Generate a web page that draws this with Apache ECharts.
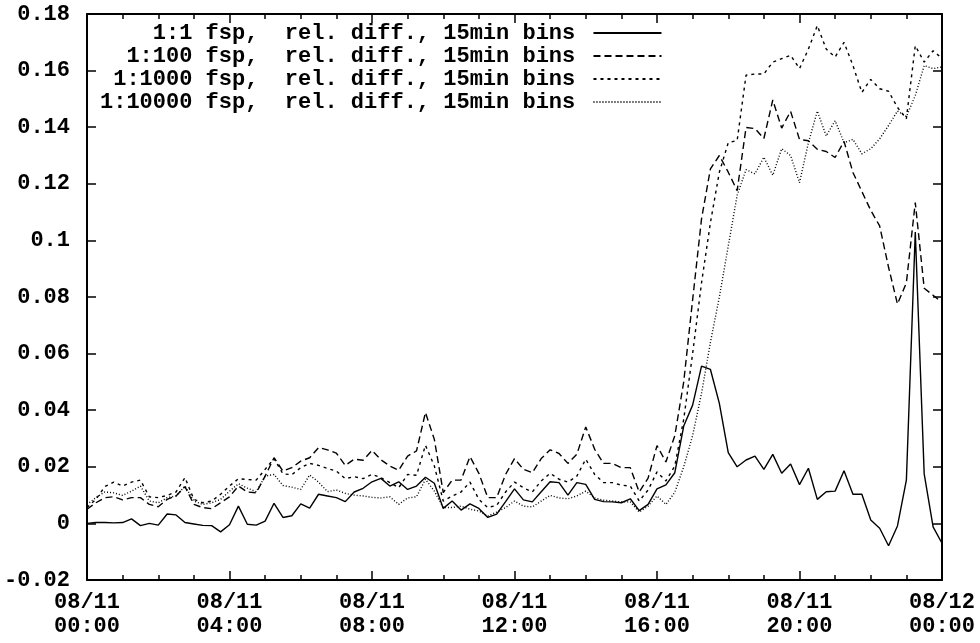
<!DOCTYPE html>
<html lang="en">
<head>
  <meta charset="UTF-8">
  <title>rel. diff. 15min bins</title>
  <script src="https://cdn.jsdelivr.net/npm/echarts@6/dist/echarts.min.js"></script>
</head>
<body style="margin:0;background:#fff">
<div id="chart" style="width:980px;height:643px"></div>

<script>
  // 15 minute bins, 08/11 00:00 .. 08/12 00:00 (97 points), x in hours
  const binHours = 0.25;
  const seriesNames = [
    '1:1 fsp,  rel. diff., 15min bins',
    '1:100 fsp,  rel. diff., 15min bins',
    '1:1000 fsp,  rel. diff., 15min bins',
    '1:10000 fsp,  rel. diff., 15min bins'
  ];
  const xTickLabels = ['08/11\n00:00', '08/11\n04:00', '08/11\n08:00', '08/11\n12:00',
    '08/11\n16:00', '08/11\n20:00', '08/12\n00:00'];

  const fsp1 = [
    0.000, 0.0003, 0.0003, 0.0002, 0.0003, 0.0016, -0.0008, 0.0000, -0.0006, 0.0033,
    0.0030, 0.0003, -0.0002, -0.0007, -0.0008, -0.0030, -0.0005, 0.0061, -0.0003, -0.0006,
    0.0008, 0.0071, 0.0021, 0.0027, 0.0069, 0.0054, 0.0103, 0.0097, 0.0091, 0.0077,
    0.0111, 0.0124, 0.0147, 0.0159, 0.0132, 0.0147, 0.0120, 0.0132, 0.0163, 0.0142,
    0.0053, 0.0079, 0.0047, 0.0069, 0.0053, 0.0021, 0.0033, 0.0077, 0.0122, 0.0083,
    0.0076, 0.0112, 0.0147, 0.0144, 0.0100, 0.0144, 0.0138, 0.0085, 0.0077, 0.0076,
    0.0073, 0.0087, 0.0045, 0.0067, 0.0122, 0.0136, 0.0179, 0.0344, 0.0418, 0.0556,
    0.0544, 0.0424, 0.0250, 0.0200, 0.0224, 0.0238, 0.0191, 0.0244, 0.0177, 0.0210,
    0.0137, 0.0195, 0.0085, 0.0112, 0.0114, 0.0186, 0.0103, 0.0103, 0.0012, -0.0017,
    -0.0079, -0.0009, 0.0153, 0.1030, 0.0175, -0.0012, -0.0070
  ];
  const fsp100 = [
    0.0050, 0.0073, 0.0091, 0.0094, 0.0083, 0.0091, 0.0091, 0.0067, 0.0059, 0.0085,
    0.0097, 0.0130, 0.0067, 0.0056, 0.0052, 0.0073, 0.0094, 0.0132, 0.0111, 0.0108,
    0.0167, 0.0232, 0.0185, 0.0197, 0.0220, 0.0232, 0.0268, 0.0260, 0.0248, 0.0205,
    0.0227, 0.0223, 0.0258, 0.0225, 0.0203, 0.0188, 0.0238, 0.0256, 0.0392, 0.0297,
    0.0109, 0.0153, 0.0153, 0.0236, 0.0177, 0.0091, 0.0091, 0.0173, 0.0229, 0.0191,
    0.0179, 0.0229, 0.0260, 0.0247, 0.0212, 0.0244, 0.0341, 0.0262, 0.0212, 0.0212,
    0.0197, 0.0197, 0.0111, 0.0160, 0.0275, 0.0217, 0.0310, 0.0500, 0.0790, 0.1076,
    0.1253, 0.1300, 0.1241, 0.1176, 0.1399, 0.1395, 0.1360, 0.1496, 0.1397, 0.1456,
    0.1357, 0.1352, 0.1322, 0.1314, 0.1293, 0.1350, 0.1240, 0.1173, 0.1106, 0.1051,
    0.0905, 0.0775, 0.0850, 0.1134, 0.0831, 0.0806, 0.0781
  ];
  const fsp1000 = [
    0.0056, 0.0085, 0.0130, 0.0146, 0.0132, 0.0146, 0.0153, 0.0094, 0.0091, 0.0099,
    0.0111, 0.0162, 0.0085, 0.0073, 0.0079, 0.0103, 0.0132, 0.0158, 0.0155, 0.0153,
    0.0191, 0.0229, 0.0175, 0.0172, 0.0197, 0.0212, 0.0205, 0.0194, 0.0185, 0.0158,
    0.0165, 0.0158, 0.0173, 0.0162, 0.0144, 0.0126, 0.0173, 0.0170, 0.0276, 0.0203,
    0.0079, 0.0097, 0.0111, 0.0146, 0.0085, 0.0056, 0.0064, 0.0111, 0.0146, 0.0126,
    0.0111, 0.0150, 0.0177, 0.0156, 0.0146, 0.0167, 0.0227, 0.0173, 0.0144, 0.0144,
    0.0135, 0.0132, 0.0079, 0.0118, 0.0182, 0.0150, 0.0203, 0.0368, 0.0600, 0.0850,
    0.1063, 0.1241, 0.1345, 0.1353, 0.1584, 0.1588, 0.1588, 0.1630, 0.1642, 0.1654,
    0.1607, 0.1676, 0.1759, 0.1676, 0.1648, 0.1700, 0.1618, 0.1523, 0.1569, 0.1536,
    0.1527, 0.1470, 0.1430, 0.1688, 0.1630, 0.1670, 0.1643
  ];
  const fsp10000 = [
    0.0067, 0.0091, 0.0111, 0.0108, 0.0099, 0.0114, 0.0132, 0.0079, 0.0073, 0.0091,
    0.0097, 0.0132, 0.0079, 0.0067, 0.0073, 0.0085, 0.0114, 0.0140, 0.0125, 0.0112,
    0.0167, 0.0173, 0.0134, 0.0128, 0.0120, 0.0171, 0.0146, 0.0112, 0.0118, 0.0106,
    0.0100, 0.0097, 0.0092, 0.0090, 0.0094, 0.0067, 0.0090, 0.0094, 0.0156, 0.0114,
    0.0056, 0.0056, 0.0061, 0.0050, 0.0044, 0.0026, 0.0040, 0.0056, 0.0079, 0.0061,
    0.0058, 0.0079, 0.0099, 0.0090, 0.0087, 0.0097, 0.0114, 0.0090, 0.0082, 0.0079,
    0.0076, 0.0076, 0.0040, 0.0061, 0.0097, 0.0067, 0.0110, 0.0200, 0.0310, 0.0460,
    0.0640, 0.0800, 0.0980, 0.1160, 0.1250, 0.1235, 0.1294, 0.1230, 0.1324, 0.1300,
    0.1204, 0.1345, 0.1457, 0.1369, 0.1423, 0.1345, 0.1357, 0.1306, 0.1324, 0.1359,
    0.1406, 0.1457, 0.1438, 0.1512, 0.1618, 0.1607, 0.1613
  ];

  const allValues = [fsp1, fsp100, fsp1000, fsp10000];
  const dashTypes = ['solid', [7, 4], [3, 4], [1, 2]];
  const FONT = '"Liberation Mono", "DejaVu Sans Mono", monospace';

  const chart = echarts.init(document.getElementById('chart'), null, { renderer: 'canvas' });

  const frameLine = { show: true, onZero: false, lineStyle: { color: '#000', width: 2 } };

  function xAxisDef(pos, labels) {
    return {
      type: 'value', position: pos, min: 0, max: 24, interval: 4,
      axisLine: frameLine,
      axisTick: { show: true, inside: true, length: 9, lineStyle: { color: '#000', width: 1.5 } },
      minorTick: { show: true, splitNumber: 4, length: 5, lineStyle: { color: '#000', width: 1.5 } },
      splitLine: { show: false },
      axisLabel: {
        show: labels, color: '#000', fontFamily: FONT, fontWeight: 'bold', fontSize: 22, lineHeight: 24, margin: 10,
        formatter: v => xTickLabels[Math.round(v / 4)]
      }
    };
  }
  function yAxisDef(pos, labels) {
    return {
      type: 'value', position: pos, min: -0.02, max: 0.18, interval: 0.02,
      axisLine: frameLine,
      axisTick: { show: true, inside: true, length: 9, lineStyle: { color: '#000', width: 1.5 } },
      splitLine: { show: false },
      axisLabel: {
        show: labels, color: '#000', fontFamily: FONT, fontWeight: 'bold', fontSize: 22, margin: 17,
        formatter: v => String(+v.toFixed(2))
      }
    };
  }

  const option = {
    animation: false,
    backgroundColor: '#fff',
    grid: { left: 87, right: 38, top: 14, bottom: 63 },
    legend: {
      orient: 'vertical', left: 95, top: 17, align: 'right',
      itemWidth: 68, itemHeight: 14, itemGap: 1,
      itemStyle: { color: 'transparent', borderWidth: 0 },
      textStyle: { fontFamily: FONT, fontWeight: 'bold', fontSize: 22, lineHeight: 22, color: '#000' },
      formatter: name => name.padStart(36) + ' ',
      data: seriesNames
    },
    xAxis: [xAxisDef('bottom', true), xAxisDef('top', false)],
    yAxis: [yAxisDef('left', true), yAxisDef('right', false)],
    series: allValues.map((vals, k) => ({
      name: seriesNames[k],
      type: 'line',
      symbol: 'none',
      showSymbol: false,
      lineStyle: { color: '#000', width: 1.4, type: dashTypes[k] },
      itemStyle: { color: '#000' },
      data: vals.map((v, i) => [i * binHours, v])
    }))
  };

  chart.setOption(option);
</script>
</body>
</html>
